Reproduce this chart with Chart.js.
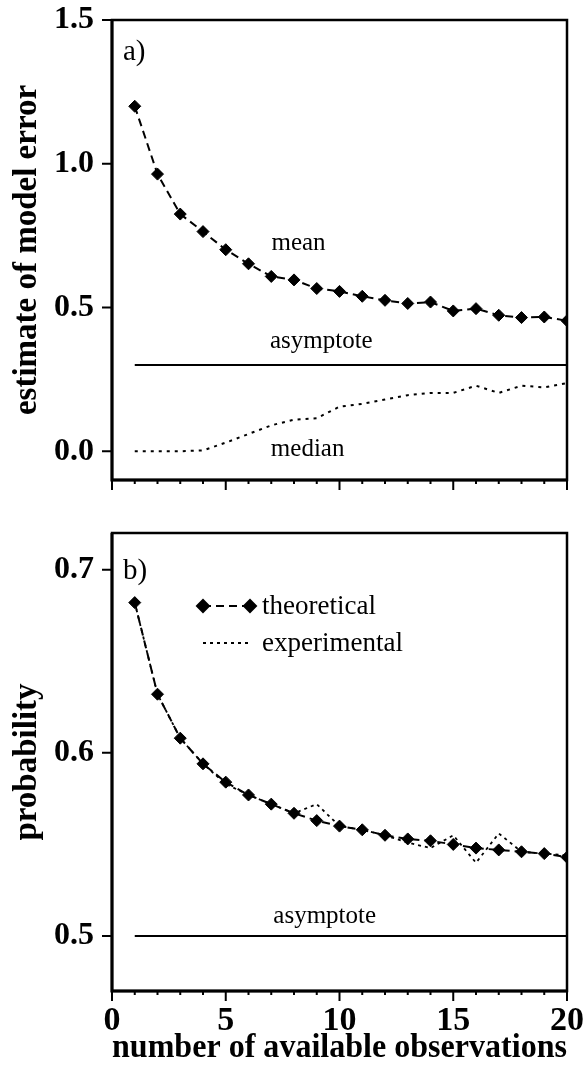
<!DOCTYPE html>
<html>
<head>
<meta charset="utf-8">
<script src="https://cdn.jsdelivr.net/npm/chart.js@4.4.1/dist/chart.umd.min.js"></script>
<style>
  html, body { margin: 0; padding: 0; background: #fff; }
  #wrap { position: relative; width: 588px; height: 1070px; }
  canvas { position: absolute; left: 0; }
  #chartA { top: 0; }
  #chartB { top: 510px; }
</style>
</head>
<body>
<div id="wrap">
  <canvas id="chartA" width="588" height="500"></canvas>
  <canvas id="chartB" width="588" height="560"></canvas>
</div>
<script>
// number of available observations
const OBS = [1, 2, 3, 4, 5, 6, 7, 8, 9, 10, 11, 12, 13, 14, 15, 16, 17, 18, 19, 20];

// panel a) estimate of model error
const MEAN_ERR   = [1.200, 0.964, 0.825, 0.764, 0.701, 0.652, 0.608, 0.596, 0.566, 0.556,
                    0.539, 0.525, 0.514, 0.519, 0.488, 0.496, 0.473, 0.465, 0.467, 0.454];
const MEDIAN_ERR = [0.000, 0.000, 0.000, 0.003, 0.030, 0.060, 0.090, 0.110, 0.115, 0.155,
                    0.165, 0.180, 0.195, 0.203, 0.203, 0.228, 0.203, 0.228, 0.222, 0.237];
const ASYM_ERR = 0.3;

// panel b) probability
const PROB_THEO = [0.682, 0.632, 0.608, 0.594, 0.584, 0.577, 0.572, 0.567, 0.563, 0.560,
                   0.558, 0.555, 0.553, 0.552, 0.550, 0.548, 0.547, 0.546, 0.545, 0.543];
const PROB_EXP  = [0.682, 0.632, 0.608, 0.594, 0.583, 0.577, 0.572, 0.567, 0.572, 0.560,
                   0.558, 0.555, 0.551, 0.548, 0.555, 0.540, 0.556, 0.546, 0.545, 0.544];
const ASYM_PROB = 0.5;

const ASYM_X = [1, 20];
const X_LABEL_EVERY = 5;

const SERIF = "'Liberation Serif', 'Times New Roman', serif";
const pts = (ys) => OBS.map((x, i) => ({ x, y: ys[i] }));
const flat = (v) => ASYM_X.map(x => ({ x, y: v }));

// ---------- plugins ----------
// box around the plot plus outward tick marks (long every 5th on x)
const axisFrame = {
  id: "axisFrame",
  afterDraw(chart) {
    const { ctx, chartArea: a, scales: { x, y } } = chart;
    ctx.save();
    ctx.strokeStyle = "#000";
    ctx.lineWidth = 2.5;
    ctx.strokeRect(a.left, a.top, a.right - a.left, a.bottom - a.top);
    // left and bottom axes a bit heavier
    ctx.lineWidth = 3;
    ctx.beginPath();
    ctx.moveTo(a.left, a.top);
    ctx.lineTo(a.left, a.bottom);
    ctx.lineTo(a.right, a.bottom);
    ctx.stroke();
    ctx.lineWidth = 2;
    ctx.beginPath();
    x.ticks.forEach(t => {
      const px = x.getPixelForValue(t.value);
      const len = t.value % X_LABEL_EVERY === 0 ? 10 : 4;
      ctx.moveTo(px, a.bottom);
      ctx.lineTo(px, a.bottom + len);
    });
    y.ticks.forEach(t => {
      const py = y.getPixelForValue(t.value);
      ctx.moveTo(a.left - 10, py);
      ctx.lineTo(a.left, py);
    });
    ctx.stroke();
    ctx.restore();
  }
};

// text labels inside the plot: curve names in data units, panel tag near the corner
const notes = {
  id: "notes",
  afterDatasetsDraw(chart, args, opts) {
    const { ctx, chartArea: a, scales: { x, y } } = chart;
    ctx.save();
    ctx.fillStyle = "#000";
    ctx.textBaseline = "alphabetic";
    (opts.items || []).forEach(n => {
      ctx.font = `${n.size || 25}px ${SERIF}`;
      ctx.textAlign = "center";
      ctx.fillText(n.text, x.getPixelForValue(n.x), y.getPixelForValue(n.y));
    });
    if (opts.tag) {
      ctx.font = `${opts.tag.size}px ${SERIF}`;
      ctx.textAlign = "left";
      ctx.fillText(opts.tag.text, a.left + opts.tag.dx, a.top + opts.tag.dy);
    }
    ctx.restore();
  }
};

// small legend drawn inside panel b
const innerLegend = {
  id: "innerLegend",
  afterDatasetsDraw(chart, args, opts) {
    if (!opts.show) return;
    const { ctx, chartArea: a } = chart;
    const x0 = a.left + opts.dx, x1 = x0 + opts.len;
    ctx.save();
    ctx.font = `${opts.size}px ${SERIF}`;
    ctx.textBaseline = "middle";
    ctx.textAlign = "left";
    ctx.fillStyle = "#000";
    opts.which.forEach((di, row) => {
      const ds = chart.data.datasets[di];
      const yy = a.top + opts.dy + row * opts.gap;
      ctx.strokeStyle = ds.borderColor;
      ctx.lineWidth = ds.borderWidth;
      ctx.setLineDash(ds.borderDash || []);
      ctx.beginPath();
      ctx.moveTo(x0, yy);
      ctx.lineTo(x1, yy);
      ctx.stroke();
      ctx.setLineDash([]);
      if (ds.pointRadius > 0) {
        [x0, x1].forEach(px => Chart.helpers.drawPoint(ctx, {
          pointStyle: ds.pointStyle, radius: ds.pointRadius, borderWidth: 1, rotation: 0
        }, px, yy));
      }
      ctx.fillText(ds.label, x1 + 12, yy + 1);
    });
    ctx.restore();
  }
};

// ---------- shared styling ----------
const tickFont = { family: SERIF, size: 32, weight: "bold" };
const titleFont = { family: SERIF, size: 34, weight: "bold" };

function baseOpts() {
  return {
    responsive: false,
    animation: false,
    events: [],
    plugins: { legend: { display: false }, tooltip: { enabled: false } }
  };
}

function xAxis(showLabels, height) {
  return {
    type: "linear", min: 0, max: 20,
    grid: { display: false, drawTicks: false },
    border: { display: false },
    ticks: {
      display: showLabels, stepSize: 1, autoSkip: false, maxRotation: 0,
      padding: 10, color: "#000", font: { family: SERIF, size: 34, weight: "bold" },
      callback: v => (v % X_LABEL_EVERY === 0 ? String(v) : "")
    },
    title: showLabels ? {
      display: true, text: "number of available observations", color: "#000",
      font: titleFont, padding: { top: 0, bottom: 1 }
    } : { display: false },
    // fixed box; the end labels may hang past the plot edges
    afterFit: s => { s.height = height; s.paddingLeft = 0; s.paddingRight = 0; }
  };
}

function yAxis(min, max, step, label) {
  return {
    min, max,
    grid: { display: false, drawTicks: false },
    border: { display: false },
    ticks: {
      stepSize: step, includeBounds: false, padding: 18, color: "#000", font: tickFont,
      callback: v => Number(v).toFixed(1)
    },
    title: { display: true, text: label, color: "#000", font: { family: SERIF, size: 33, weight: "bold" }, padding: { top: 8, bottom: 0 } },
    afterFit: s => { s.width = 112; s.paddingTop = 0; s.paddingBottom = 0; }
  };
}

const line = (label, data, extra) => Object.assign({
  label, data,
  borderColor: "#000", backgroundColor: "#000",
  borderWidth: 2, pointRadius: 0, tension: 0
}, extra);

const diamonds = { pointStyle: "rectRot", pointRadius: 6, pointBorderWidth: 1, borderDash: [8, 5] };

// ---------- panel a ----------
new Chart(document.getElementById("chartA"), {
  type: "line",
  data: {
    datasets: [
      line("mean", pts(MEAN_ERR), diamonds),
      line("median", pts(MEDIAN_ERR), { borderDash: [3, 5] }),
      line("asymptote", flat(ASYM_ERR))
    ]
  },
  options: Object.assign(baseOpts(), {
    layout: { padding: { top: 20, right: 21, left: 0, bottom: 0 } },
    scales: { x: xAxis(false, 20), y: yAxis(-0.1, 1.5, 0.5, "estimate of model error") },
    plugins: {
      legend: { display: false }, tooltip: { enabled: false },
      notes: {
        tag: { text: "a)", dx: 11, dy: 40, size: 29 },
        items: [
          { text: "mean", x: 8.2, y: 0.70 },
          { text: "asymptote", x: 9.2, y: 0.358 },
          { text: "median", x: 8.6, y: -0.018 }
        ]
      },
      innerLegend: { show: false }
    }
  }),
  plugins: [axisFrame, notes, innerLegend]
});

// ---------- panel b ----------
new Chart(document.getElementById("chartB"), {
  type: "line",
  data: {
    datasets: [
      line("theoretical", pts(PROB_THEO), diamonds),
      line("experimental", pts(PROB_EXP), { borderDash: [3, 4], borderWidth: 1.8 }),
      line("asymptote", flat(ASYM_PROB))
    ]
  },
  options: Object.assign(baseOpts(), {
    layout: { padding: { top: 23, right: 21, left: 0, bottom: 0 } },
    scales: { x: xAxis(true, 79), y: yAxis(0.47, 0.72, 0.1, "probability") },
    plugins: {
      legend: { display: false }, tooltip: { enabled: false },
      notes: {
        tag: { text: "b)", dx: 11, dy: 46, size: 29 },
        items: [{ text: "asymptote", x: 9.35, y: 0.507 }]
      },
      innerLegend: { show: true, which: [0, 1], dx: 91, dy: 73, gap: 37, len: 47, size: 27 }
    }
  }),
  plugins: [axisFrame, notes, innerLegend]
});
</script>
</body>
</html>
